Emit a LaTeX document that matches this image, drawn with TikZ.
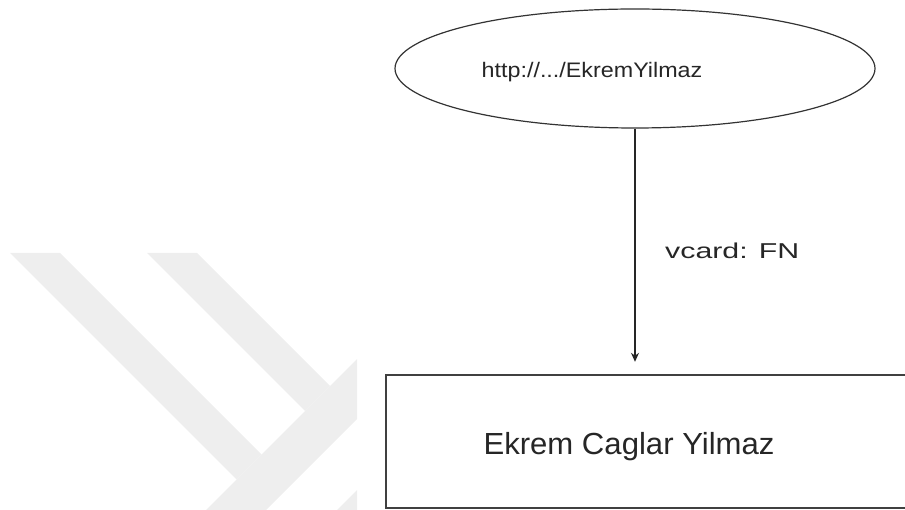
\documentclass[tikz,border=0pt]{standalone}
\usepackage{fontspec}
\setmainfont{Liberation Sans}
\usetikzlibrary{shapes.geometric,arrows.meta,positioning}
\definecolor{wmark}{HTML}{EEEEEE}

\begin{document}
\begin{tikzpicture}[x=1pt,y=-1pt,>={Stealth[length=9pt,width=8pt]},
  uri node/.style={ellipse,draw=black!80,line width=1.2pt,minimum width=480pt,minimum height=119pt,inner sep=0pt},
  literal node/.style={rectangle,minimum width=640pt,minimum height=133pt,inner sep=0pt},
  box line/.style={draw=black!75,line width=2pt},
  txt/.style={inner sep=0pt,text=black!85}]
  \useasboundingbox (0,0) rectangle (905,510);

  % faint watermark on the left
  \begin{scope}
    \clip (0,253) rectangle (357,510);
    \fill[wmark] (196,520) -- (256,520) -- (400,376) -- (400,316) -- cycle;
    \fill[wmark] (10,253) -- (60,253) -- (261.5,454.5) -- (236.5,479.5) -- cycle;
    \fill[wmark] (147,253) -- (197,253) -- (330,386) -- (305,411) -- cycle;
    \fill[wmark] (327,520) -- (400,447) -- (400,520) -- cycle;
  \end{scope}

  \node[uri node] (uri) at (635,68.5) {};
  \node[literal node] (lit) at (706,441.5) {};
  % the box runs on past the right edge of the page
  \begin{scope}
    \clip (0,0) rectangle (905,510);
    \draw[box line] (lit.north east) -- (lit.north west) -- (lit.south west) -- (lit.south east);
  \end{scope}

  \node[txt,anchor=base,font=\fontsize{21}{21}\selectfont] (uri text) at (592,78) {\scalebox{1.11}[1]{http://.../EkremYilmaz}};
  \node[txt,anchor=base,font=\fontsize{30.5}{30.5}\selectfont] (lit text) at (629,454) {\scalebox{1.02}[1]{Ekrem Caglar Yilmaz}};

  \draw[->,line width=1.2pt,draw=black!85,shorten >=13pt] (uri.south) -- (uri.south |- lit.north);
  \node[txt,anchor=base west,font=\fontsize{21.5}{21.5}\selectfont] (fn label) at (665,259) {\scalebox{1.41}[1]{vcard: FN}};
\end{tikzpicture}
\end{document}
